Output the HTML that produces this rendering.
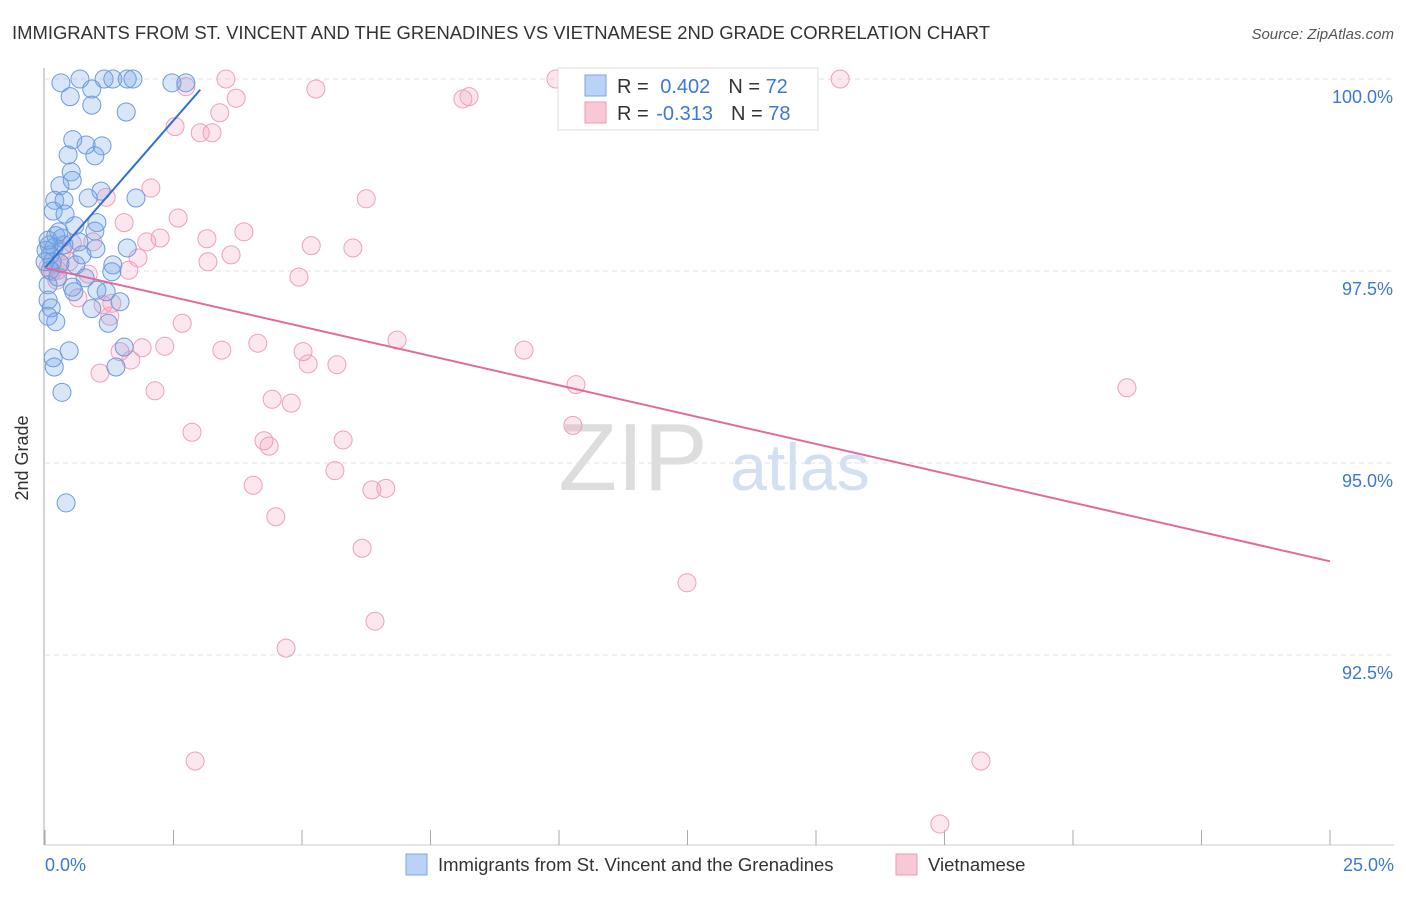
<!DOCTYPE html>
<html><head><meta charset="utf-8"><style>
body{margin:0;background:#fff;font-family:"Liberation Sans",sans-serif;}
svg text{font-family:"Liberation Sans",sans-serif;}
</style></head><body>
<svg id="c" width="1406" height="892" xmlns="http://www.w3.org/2000/svg">
<text x="12" y="39" font-size="18.45" fill="#333">IMMIGRANTS FROM ST. VINCENT AND THE GRENADINES VS VIETNAMESE 2ND GRADE CORRELATION CHART</text>
<text x="1394" y="39" font-size="15" fill="#555" text-anchor="end" font-style="italic">Source: ZipAtlas.com</text>
<text x="633" y="490" font-size="96" fill="#ddd" font-family="Liberation Serif,serif" text-anchor="middle">ZIP</text>
<text x="800" y="490" font-size="66" fill="#d3e0f2" text-anchor="middle">atlas</text>
<g id="grid"></g><g id="axes"></g><g id="pts"></g><g id="lines"></g>
<text x="28" y="458" font-size="18" fill="#333" text-anchor="middle" transform="rotate(-90 28 458)">2nd Grade</text>
<g>
<rect x="558" y="68" width="260" height="62" fill="#fff" stroke="#ddd"/>
<rect x="585" y="75" width="21" height="21" fill="#b9d2f5" stroke="#7aa6e6"/>
<rect x="585" y="102" width="21" height="21" fill="#f9c8d7" stroke="#ee9ab5"/>
<text x="617" y="93" font-size="20" fill="#333">R = <tspan fill="#3b78d8" dx="6">0.402</tspan><tspan dx="18" fill="#333">N = </tspan><tspan fill="#3b78d8">72</tspan></text>
<text x="617" y="120" font-size="20" fill="#333">R = <tspan fill="#3b78d8" dx="2">-0.313</tspan><tspan dx="18" fill="#333">N = </tspan><tspan fill="#3b78d8">78</tspan></text>
</g>
<g>
<rect x="406" y="854" width="21" height="21" fill="#b9d2f5" stroke="#7aa6e6"/>
<text x="438" y="871" font-size="18.5" fill="#333">Immigrants from St. Vincent and the Grenadines</text>
<rect x="896" y="854" width="21" height="21" fill="#f9c8d7" stroke="#ee9ab5"/>
<text x="928" y="871" font-size="18.5" fill="#333">Vietnamese</text>
</g>
</svg>
<script>
const yTicks=[100,97.5,95,92.5];
const yTickLabels=["100.0%","97.5%","95.0%","92.5%"];
const xTickLabels=["0.0%","25.0%"];
const blueX=[0.31,0.68,1.15,1.32,1.60,1.71,2.47,2.74,0.49,0.91,0.91,1.58,0.54,0.80,1.11,0.45,0.97,0.51,0.53,0.29,1.09,0.84,1.77,0.19,0.37,0.16,0.39,0.58,1.01,0.97,0.21,0.33,0.08,0.18,0.66,0.99,1.60,0.10,0.14,0.29,1.32,0.60,1.30,0.78,0.06,0.53,0.56,1.19,0.06,0.12,0.91,1.46,0.06,0.21,1.23,1.54,0.47,0.16,0.18,1.38,0.33,0.41,0.10,0.25,0.37,0.27,1.01,0.00,0.02,0.06,0.72];
const blueY=[99.95,100,100,100,100,100,99.95,99.95,99.77,99.87,99.66,99.57,99.21,99.14,99.13,99.01,99.00,98.79,98.68,98.61,98.54,98.45,98.45,98.42,98.42,98.28,98.24,98.09,98.13,98.02,97.96,97.93,97.84,97.81,97.88,97.79,97.80,97.71,97.62,97.60,97.58,97.58,97.49,97.41,97.32,97.29,97.23,97.23,97.12,97.02,97.01,97.10,96.91,96.84,96.82,96.51,96.46,96.37,96.25,96.25,95.92,94.48,97.51,97.42,97.84,98.01,97.25,97.62,97.77,97.90,97.71];
const pinkX=[2.74,3.52,9.94,15.47,3.72,3.40,5.27,8.13,8.25,2.53,3.02,3.25,2.06,1.19,6.25,2.59,1.54,3.87,3.15,2.24,1.98,5.18,5.99,0.93,3.62,1.81,3.17,0.29,1.63,4.94,0.84,0.14,0.23,0.64,1.30,1.13,1.26,2.67,6.85,4.14,9.32,2.33,1.89,3.44,1.46,5.02,1.67,5.12,5.68,1.07,10.33,21.05,2.14,4.42,4.79,2.86,10.27,4.26,4.36,5.80,5.64,4.05,6.36,6.63,4.49,6.17,12.49,6.42,4.69,2.92,18.21,17.41,0.25,0.47,0.33,0.53,0.06];
const pinkY=[99.90,100,100,100,99.75,99.56,99.87,99.74,99.77,99.38,99.30,99.30,98.58,98.46,98.44,98.19,98.13,98.01,97.92,97.93,97.88,97.83,97.80,97.88,97.71,97.67,97.62,97.60,97.51,97.42,97.46,97.49,97.38,97.15,97.08,97.06,96.91,96.82,96.60,96.56,96.47,96.52,96.50,96.47,96.45,96.45,96.34,96.29,96.28,96.17,96.02,95.98,95.94,95.83,95.78,95.40,95.49,95.29,95.22,95.30,94.90,94.71,94.65,94.67,94.30,93.89,93.44,92.94,92.59,91.12,91.12,90.30,97.51,97.62,97.76,97.86,97.55];
const blueTrend=[[0,97.54],[3.02,99.86]];
const pinkTrend=[[0,97.54],[25,93.72]];
const X0=45,X1=1330,Y100=79,PX_PER_PT=76.8;
const sx=v=>X0+(v/25)*(X1-X0);
const sy=v=>Y100+(100-v)*PX_PER_PT;
const NS="http://www.w3.org/2000/svg";
function mk(tag,attrs,parent){const e=document.createElementNS(NS,tag);for(const k in attrs)e.setAttribute(k,attrs[k]);document.getElementById(parent).appendChild(e);return e;}
yTicks.forEach((t,i)=>{
 const g=mk('line',{x1:45,x2:1394,y1:sy(t),y2:sy(t),stroke:'#e2e2e2','stroke-dasharray':'5,4'},'grid');
 
 
 const l=mk('text',{x:1393,y:sy(t)+24,'font-size':18,fill:'#3b78d8','text-anchor':'end'},'axes');
 l.textContent=yTickLabels[i];
 
 
});
const ax=mk('line',{x1:44,x2:44,y1:68,y2:845,stroke:'#aaa'},'axes');


const bx=mk('line',{x1:44,x2:1394,y1:845,y2:845,stroke:'#ccc'},'axes');


for(let i=0;i<=10;i++){
 const t=mk('line',{x1:sx(i*2.5),x2:sx(i*2.5),y1:830,y2:845,stroke:'#aaa'},'axes');
 
 
}
[[0,45,'start'],[1,1394,'end']].forEach(([i,x,a])=>{
 const l=mk('text',{x:x,y:871,'font-size':18,fill:'#3b78d8','text-anchor':a},'axes');
 l.textContent=xTickLabels[i];
 
 
});
pinkX.forEach((x,i)=>{
 const c=mk('circle',{cx:sx(x),cy:sy(pinkY[i]),r:9,fill:'rgba(244,160,188,0.25)',stroke:'#ee9fba','stroke-width':1},'pts');
 
 
});
blueX.forEach((x,i)=>{
 const c=mk('circle',{cx:sx(x),cy:sy(blueY[i]),r:9,fill:'rgba(120,165,230,0.28)',stroke:'#6b9bde','stroke-width':1},'pts');
 
 
});
const bl=mk('line',{x1:sx(blueTrend[0][0]),y1:sy(blueTrend[0][1]),x2:sx(blueTrend[1][0]),y2:sy(blueTrend[1][1]),stroke:'#2f6fd6','stroke-width':2},'lines');


const pl=mk('line',{x1:sx(pinkTrend[0][0]),y1:sy(pinkTrend[0][1]),x2:sx(pinkTrend[1][0]),y2:sy(pinkTrend[1][1]),stroke:'#e4689a','stroke-width':2},'lines');


</script>
</body></html>
